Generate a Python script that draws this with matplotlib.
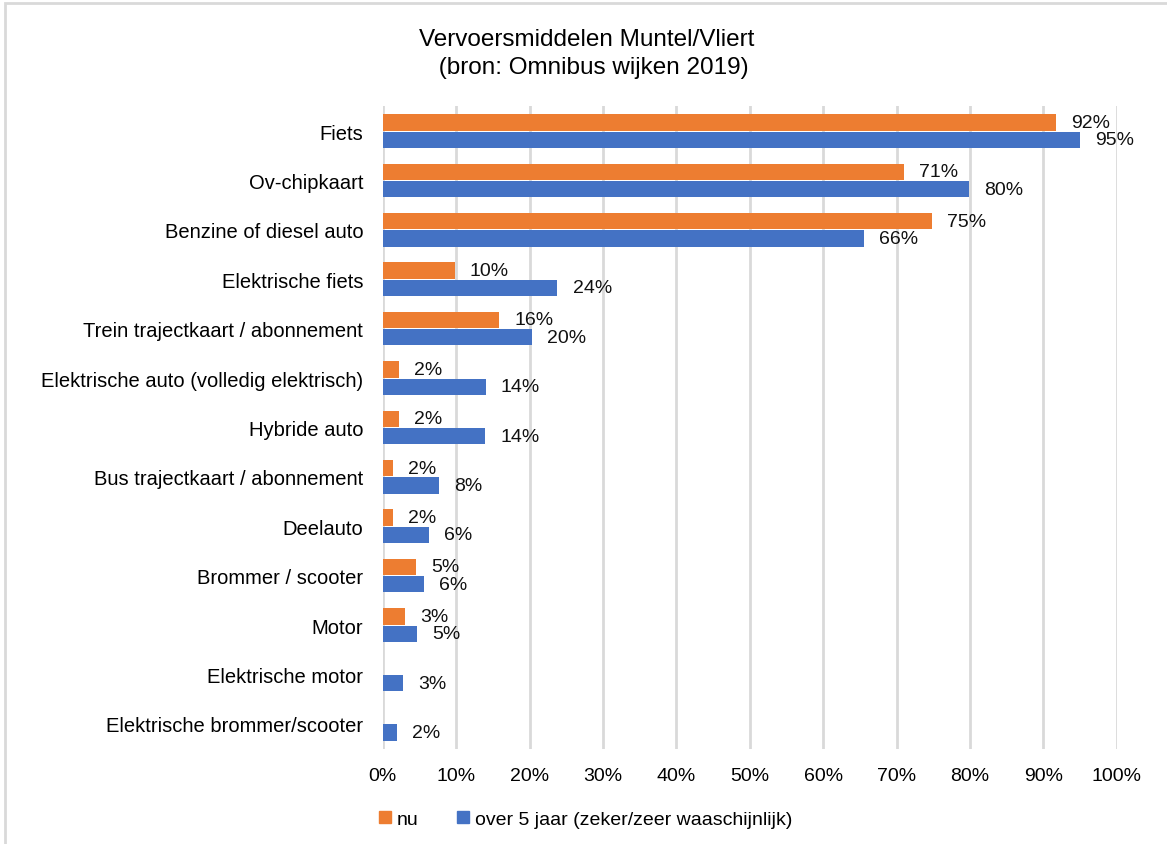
import numpy as np
import matplotlib.pyplot as plt
from matplotlib.patches import Patch, Rectangle

# categorieën en waarden (fractie)
categorieen = [
    "Fiets", "Ov-chipkaart", "Benzine of diesel auto", "Elektrische fiets",
    "Trein trajectkaart / abonnement", "Elektrische auto (volledig elektrisch)",
    "Hybride auto", "Bus trajectkaart / abonnement", "Deelauto",
    "Brommer / scooter", "Motor", "Elektrische motor",
    "Elektrische brommer/scooter",
]
nu = [0.917, 0.710, 0.748, 0.098, 0.159, 0.022, 0.022, 0.014, 0.014,
      0.045, 0.030, 0.0, 0.0]
over5 = [0.950, 0.798, 0.655, 0.238, 0.203, 0.140, 0.139, 0.076, 0.063,
         0.056, 0.046, 0.027, 0.019]
nu_labels = ["92%", "71%", "75%", "10%", "16%", "2%", "2%", "2%", "2%",
             "5%", "3%", "", ""]
over5_labels = ["95%", "80%", "66%", "24%", "20%", "14%", "14%", "8%", "6%",
                "6%", "5%", "3%", "2%"]
xticks = np.arange(0, 1.01, 0.1)

oranje = "#ED7D31"
blauw = "#4472C4"

plt.rcParams["font.family"] = ["Liberation Sans", "DejaVu Sans"]

fig = plt.figure(figsize=(11.67, 8.45), dpi=100)
ax = fig.add_axes([0.328, 0.113, 0.629, 0.760])

y = np.arange(len(categorieen))
h = 0.33
ax.barh(y - 0.175, nu, height=h, color=oranje, zorder=3)
ax.barh(y + 0.175, over5, height=h, color=blauw, zorder=3)

for i in range(len(categorieen)):
    if nu_labels[i]:
        ax.annotate(nu_labels[i], (nu[i], y[i] - 0.175), xytext=(11, 0),
                    textcoords="offset points", va="center", ha="left",
                    fontsize=14, color="#111111")
    ax.annotate(over5_labels[i], (over5[i], y[i] + 0.175), xytext=(11, 0),
                textcoords="offset points", va="center", ha="left",
                fontsize=14, color="#111111")

ax.set_ylim(len(categorieen) - 0.5, -0.5)
ax.set_xlim(0, 1.0)
ax.set_yticks(y)
ax.set_yticklabels(categorieen, fontsize=14.5)
ax.set_xticks(xticks)
ax.set_xticklabels([f"{int(round(t * 100))}%" for t in xticks], fontsize=14)
ax.tick_params(length=0, pad=13)
ax.tick_params(axis="y", pad=14)
ax.grid(axis="x", color="#d9d9d9", linewidth=2, zorder=0)
for s in ax.spines.values():
    s.set_visible(False)

fig.text(0.503, 0.953, "Vervoersmiddelen Muntel/Vliert",
         ha="center", va="center", fontsize=17.5)
fig.text(0.506, 0.920, " (bron: Omnibus wijken 2019)",
         ha="center", va="center", fontsize=17.5)

handles = [Patch(color=oranje, label="nu"),
           Patch(color=blauw, label="over 5 jaar (zeker/zeer waaschijnlijk)")]
fig.legend(handles=handles, loc="center left", bbox_to_anchor=(0.31, 0.029),
           ncol=2, frameon=False, fontsize=14, handlelength=0.6,
           handleheight=0.6, handletextpad=0.3, columnspacing=2.0)

# lichtgrijze rand van het grafiekvlak
fig.patches.append(Rectangle((0.004, -0.1), 1.2, 1.095, transform=fig.transFigure,
                             fill=False, edgecolor="#d9d9d9", linewidth=2))

fig.savefig("out.png", dpi=100)
